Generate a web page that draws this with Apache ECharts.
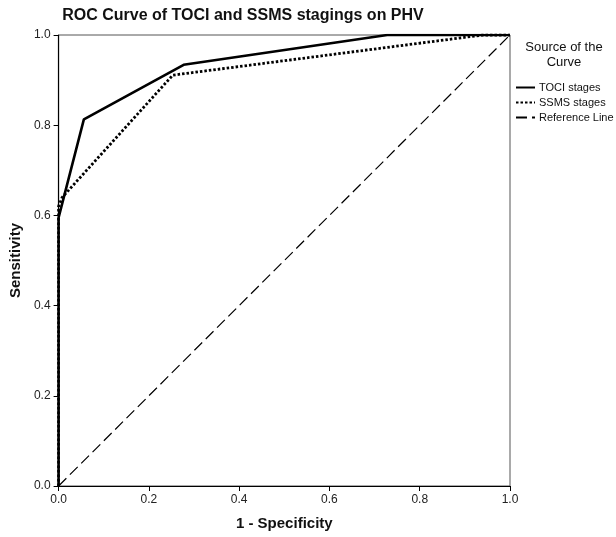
<!DOCTYPE html>
<html><head><meta charset="utf-8">
<script src="https://cdn.jsdelivr.net/npm/echarts@6/dist/echarts.min.js"></script>
<style>html,body{margin:0;padding:0;background:#fff}#c{width:616px;height:537px}</style>
</head><body><div id="c"></div>
<script>
var tociX = [0, 0, 0.056, 0.277, 0.728, 1.0];
var tociY = [0, 0.595, 0.813, 0.934, 1.0, 1.0];
var ssmsX = [0, 0, 0.008, 0.253, 0.94, 1.0];
var ssmsY = [0, 0.62, 0.64, 0.911, 1.0, 1.0];
var refX = [0, 1];
var refY = [0, 1];
var tickLabels = ['0.0', '0.2', '0.4', '0.6', '0.8', '1.0'];
var seriesNames = ['TOCI stages', 'SSMS stages', 'Reference Line'];

function pairs(xs, ys) { return xs.map(function (x, i) { return [x, ys[i]]; }); }
var font = 'Liberation Sans, Arial, sans-serif';
var chart = echarts.init(document.getElementById('c'), null, {renderer: 'canvas'});
var axisCommon = {
  type: 'value', min: 0, max: 1, interval: 0.2,
  axisLine: {show: true, lineStyle: {color: '#000', width: 1.2}},
  axisTick: {show: true, length: 5, lineStyle: {color: '#000'}},
  splitLine: {show: false},
  axisLabel: {color: '#222', fontSize: 12, fontFamily: font,
    formatter: function (v) { return tickLabels[Math.round(v * 5)]; }},
  nameLocation: 'middle',
  nameTextStyle: {color: '#111', fontSize: 15, fontWeight: 'bold', fontFamily: font}
};
chart.setOption({
  animation: false,
  title: {text: 'ROC Curve of TOCI and SSMS stagings on PHV', left: 238, top: 3, textAlign: 'center',
    textStyle: {fontSize: 16, fontWeight: 'bold', color: '#111', fontFamily: font}},
  grid: {left: 57, right: 106, top: 35, bottom: 51, show: true, borderColor: '#555', borderWidth: 1},
  xAxis: Object.assign({}, axisCommon, {name: '1 - Specificity', nameGap: 30}),
  yAxis: Object.assign({}, axisCommon, {name: 'Sensitivity', nameGap: 35}),
  legend: {
    orient: 'vertical', left: 510, top: 77, itemWidth: 19, itemHeight: 10, itemGap: 4,
    data: seriesNames,
    itemStyle: {opacity: 0},
    textStyle: {fontSize: 11, color: '#111', fontFamily: font, padding: [0, 0, 0, -1]}
  },
  graphic: [{type: 'text', x: 564, y: 40, style: {text: 'Source of the\nCurve', font: '13px ' + font, fill: '#111', lineHeight: 15, align: 'center'}}],
  series: [
    {name: seriesNames[0], type: 'line', data: pairs(tociX, tociY), symbol: 'none',
      lineStyle: {color: '#000', width: 2.6, type: 'solid'}, itemStyle: {color: '#000'}, z: 3},
    {name: seriesNames[1], type: 'line', data: pairs(ssmsX, ssmsY), symbol: 'none',
      lineStyle: {color: '#000', width: 2.8, type: [2.5, 2]}, itemStyle: {color: '#000'}, z: 2},
    {name: seriesNames[2], type: 'line', data: pairs(refX, refY), symbol: 'none',
      lineStyle: {color: '#000', width: 1.2, type: [11, 5]}, itemStyle: {color: '#000'}, z: 1}
  ]
});
</script></body></html>
